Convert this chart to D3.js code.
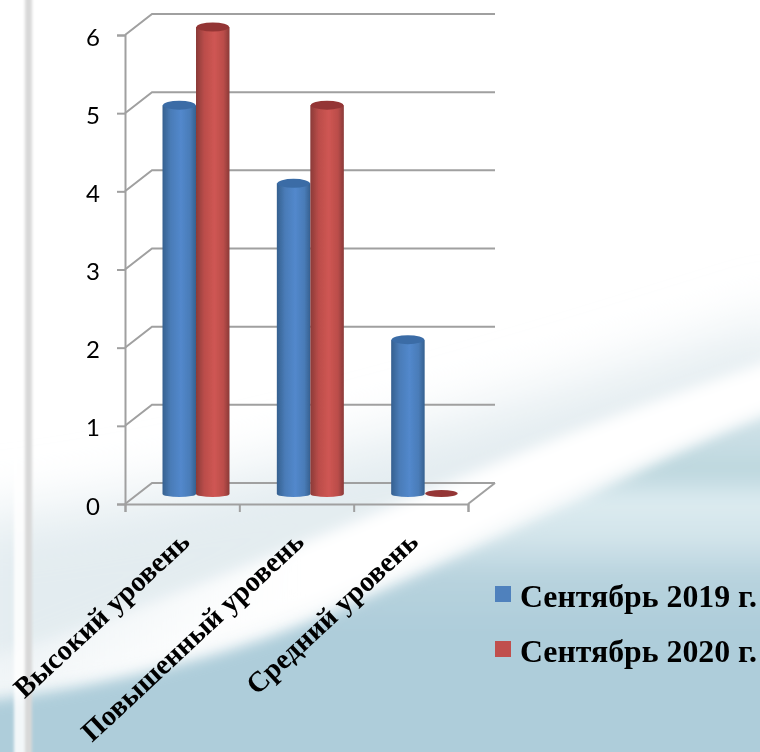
<!DOCTYPE html>
<html>
<head>
<meta charset="utf-8">
<script src="https://cdn.jsdelivr.net/npm/d3@7"></script>
<style>
    html, body {margin: 0; padding: 0; background: #fff;}
    svg {display: block;}
</style>
</head>
<body>
<div id="chart"></div>
<script>
// Chart data
var categories = ["Высокий уровень", "Повышенный уровень", "Средний уровень"];
var seriesNames = ["Сентябрь 2019 г.", "Сентябрь 2020 г."];
var values2019 = [5, 4, 2];
var values2020 = [6, 5, 0];
var yTicks = [0, 1, 2, 3, 4, 5, 6];

var width = 760, height = 752;
var depthX = 27, depthY = -21;      // offset of the back wall
var floorX = 37.5, floorY = -8;     // where the cylinders stand on the floor

var svg = d3.select("#chart").append("svg")
    .attr("width", width)
    .attr("height", height);
var defs = svg.append("defs");

// Scales
var y = d3.scaleLinear().domain([0, 6]).range([504, 35]);
var x0 = d3.scaleBand().domain(categories).range([125, 468]);
var x1 = d3.scaleBand().domain(seriesNames).range([0, 67]);
var xTick = d3.scaleLinear().domain([0, 3]).range([125, 468]);
var colors = d3.scaleOrdinal().domain(seriesNames).range(["#4f81bd", "#c0504d"]);
var tops = d3.scaleOrdinal().domain(seriesNames).range(["#3a6ca6", "#943634"]);

//Gradients for the cylinders
function cylinderGradient(id, dark, mid, light) {
    var g = defs.append("linearGradient").attr("id", id);
    g.append("stop").attr("offset", "0%").attr("stop-color", dark);
    g.append("stop").attr("offset", "25%").attr("stop-color", mid);
    g.append("stop").attr("offset", "55%").attr("stop-color", light);
    g.append("stop").attr("offset", "82%").attr("stop-color", mid);
    g.append("stop").attr("offset", "100%").attr("stop-color", dark);
}
cylinderGradient("grad0", "#35608f", "#4a7cb8", "#5288cc");
cylinderGradient("grad1", "#8a3a38", "#bb4d4a", "#cf5653");

// Filters use the page as their region, so the blur is not cut off at the shape's box
function blurFilter(id, amount) {
    defs.append("filter").attr("id", id)
        .attr("filterUnits", "userSpaceOnUse")
        .attr("x", -100).attr("y", -100).attr("width", 960).attr("height", 952)
        .append("feGaussianBlur").attr("stdDeviation", amount);
}
blurFilter("haze", 30);
blurFilter("soft", 7);
blurFilter("stripe", 1.5);
blurFilter("softSmall", 0.55);

var seaGrad = defs.append("linearGradient").attr("id", "sea")
    .attr("gradientUnits", "userSpaceOnUse")
    .attr("x1", 0).attr("y1", 410).attr("x2", 0).attr("y2", 630);
seaGrad.append("stop").attr("offset", "0%").attr("stop-color", "#d3e4ea");
seaGrad.append("stop").attr("offset", "28%").attr("stop-color", "#bdd7de");
seaGrad.append("stop").attr("offset", "42%").attr("stop-color", "#dcebf0");
seaGrad.append("stop").attr("offset", "58%").attr("stop-color", "#d2e4ea");
seaGrad.append("stop").attr("offset", "76%").attr("stop-color", "#b8d3de");
seaGrad.append("stop").attr("offset", "100%").attr("stop-color", "#aecdda");

// Background
var bg = svg.append("g").attr("class", "background");
bg.append("rect").attr("width", width).attr("height", height).attr("fill", "#fff");
// grey-blue haze above the swoosh
bg.append("path")
    .attr("d", "M-40,520 C200,500 500,410 800,315 L800,400 L-40,720 Z")
    .attr("fill", "#e3ecf0")
    .attr("filter", "url(#haze)");
// blue lower part
bg.append("path")
    .attr("d", "M-60,705 C60,695 200,665 300,625 C400,585 520,525 640,470 C700,440 760,415 820,395 L820,800 L-60,800 Z")
    .attr("fill", "url(#sea)")
    .attr("filter", "url(#soft)");
// white swoosh, fades out toward the left
var swooshGrad = defs.append("linearGradient").attr("id", "swoosh")
    .attr("gradientUnits", "userSpaceOnUse")
    .attr("x1", 0).attr("y1", 0).attr("x2", 300).attr("y2", 0);
swooshGrad.append("stop").attr("offset", "0%").attr("stop-color", "#fff").attr("stop-opacity", 0.3);
swooshGrad.append("stop").attr("offset", "100%").attr("stop-color", "#fff").attr("stop-opacity", 1);
bg.append("path")
    .attr("d", "M-40,665 C100,630 300,545 540,445 C640,405 740,370 820,345 L820,390 C700,435 620,470 520,515 C400,570 280,625 130,665 C80,678 20,688 -40,694 Z")
    .attr("fill", "url(#swoosh)")
    .attr("filter", "url(#soft)");
// left vertical stripe
bg.append("rect").attr("x", 14).attr("y", -20).attr("width", 14).attr("height", 800)
    .attr("fill", "#ffffff").attr("opacity", 0.85).attr("filter", "url(#stripe)");
bg.append("rect").attr("x", 25).attr("y", -20).attr("width", 7).attr("height", 800)
    .attr("fill", "#d8d8d8").attr("filter", "url(#stripe)");

// Walls grid, drawn at the back with the slanted side lines
var plot = svg.append("g").attr("class", "plot").attr("filter", "url(#softSmall)");
var gridColor = "#a0a0a0";

plot.selectAll(".grid")
    .data(yTicks)
    .enter().append("path")
    .attr("class", "grid")
    .attr("fill", "none")
    .attr("stroke", gridColor)
    .attr("stroke-width", 2)
    .attr("d", function (d) {
        return "M" + 125 + "," + y(d) + "l" + depthX + "," + depthY + "H" + (468 + depthX);
    });

// floor right edge
plot.append("line")
    .attr("x1", xTick(3)).attr("y1", y(0))
    .attr("x2", xTick(3) + depthX).attr("y2", y(0) + depthY)
    .attr("stroke", gridColor).attr("stroke-width", 2);

// Axes
var yAxis = d3.axisLeft(y).tickValues(yTicks).tickSize(8).tickPadding(17).tickFormat(d3.format("d"));
var xAxis = d3.axisBottom(xTick).tickValues([0, 1, 2, 3]).tickSize(8).tickFormat("");

var yG = plot.append("g").attr("class", "y axis").attr("transform", "translate(125,0)").call(yAxis);
var xG = plot.append("g").attr("class", "x axis").attr("transform", "translate(0," + y(0) + ")").call(xAxis);
plot.selectAll(".axis path, .axis line").attr("stroke", gridColor).attr("stroke-width", 2);
yG.selectAll("text")
    .attr("font-family", "Lato, 'Noto Sans', sans-serif")
    .attr("font-size", 24)
    .attr("dy", "0.42em")
    .attr("fill", "#000");

// Cylinders
var rx = x1.bandwidth() / 2, ry = 4.5;
var baseY = 494;

seriesNames.forEach(function (name, s) {
    var vals = s === 0 ? values2019 : values2020;
    categories.forEach(function (cat, i) {
        var v = vals[i];
        var cx = x0(cat) + floorX + x1(name) + rx;
        var g = plot.append("g").attr("class", "bar");
        if (v > 0) {
            var topY = y(v) + floorY;
            g.append("path")
                .attr("fill", "url(#grad" + s + ")")
                .attr("d", "M" + (cx - rx) + "," + topY + "V" + baseY +
                    "A" + rx + "," + 3 + " 0 0 0 " + (cx + rx) + "," + baseY +
                    "V" + topY + "Z");
            g.append("ellipse")
                .attr("cx", cx).attr("cy", topY)
                .attr("rx", rx - 0.5).attr("ry", ry)
                .attr("fill", tops(name));
        } else {
            // empty bar leaves only a flat disc on the floor
            g.append("ellipse")
                .attr("cx", cx).attr("cy", baseY - 0.5)
                .attr("rx", rx - 0.5).attr("ry", 3.5)
                .attr("fill", tops(name));
        }
    });
});

// Category labels
plot.selectAll(".catLabel")
    .data(categories)
    .enter().append("text")
    .attr("class", "catLabel")
    .attr("text-anchor", "end")
    .attr("transform", function (d) {
        return "translate(" + (x0(d) + x0.bandwidth() / 2 + 9) + ",544) rotate(-43)";
    })
    .attr("font-family", "'Liberation Serif', serif")
    .attr("font-weight", "bold")
    .attr("font-size", 28.5)
    .attr("fill", "#000")
    .text(function (d) { return d; });

// Legend
var legendY = d3.scalePoint().domain(seriesNames).range([594, 649]);
var legend = svg.selectAll(".legend")
    .data(seriesNames)
    .enter().append("g")
    .attr("class", "legend")
    .attr("filter", "url(#softSmall)")
    .attr("transform", function (d) { return "translate(495," + legendY(d) + ")"; });

legend.append("rect")
    .attr("x", 0).attr("y", -8)
    .attr("width", 16).attr("height", 16)
    .attr("fill", function (d) { return colors(d); });

legend.append("text")
    .attr("x", 25)
    .attr("y", 13)
    .attr("font-family", "'Liberation Serif', serif")
    .attr("font-weight", "bold")
    .attr("font-size", 31.8)
    .attr("fill", "#000")
    .text(function (d) { return d; });
</script>
</body>
</html>
